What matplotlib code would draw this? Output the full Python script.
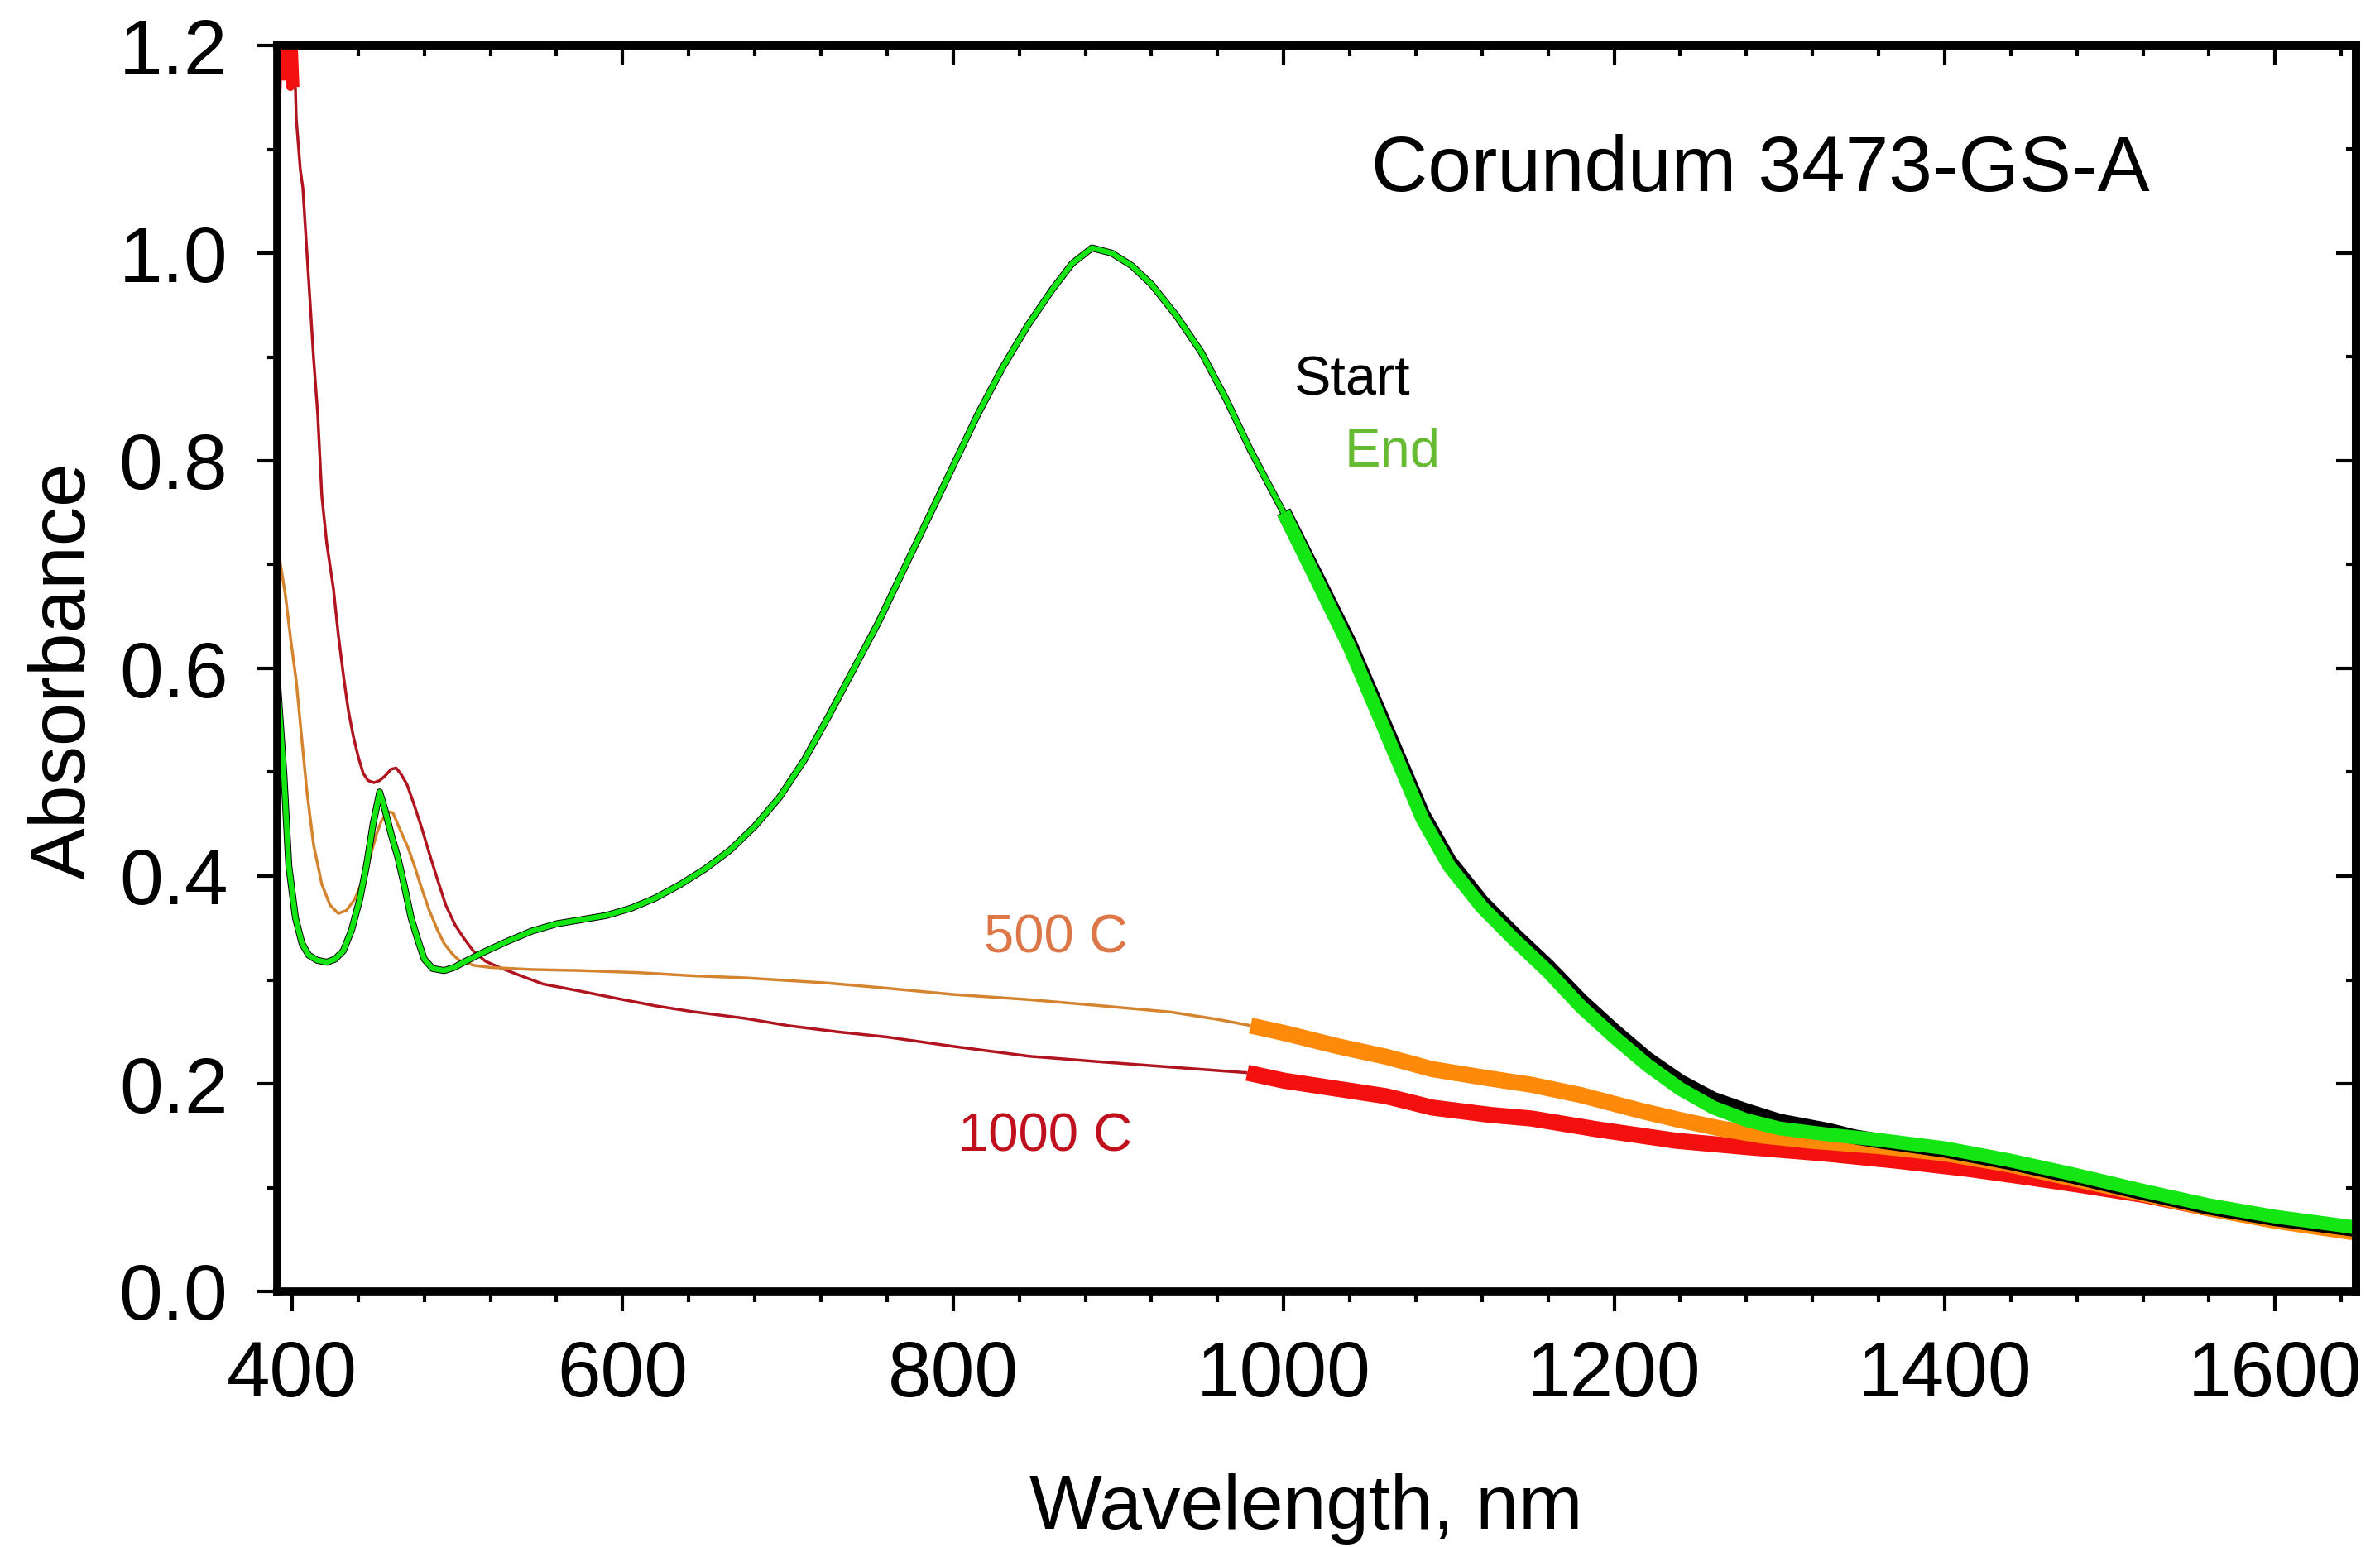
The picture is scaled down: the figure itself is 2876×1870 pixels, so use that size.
import matplotlib
matplotlib.use("Agg")
import matplotlib.pyplot as plt
from matplotlib.ticker import MultipleLocator, FixedLocator

plt.rcParams['font.family'] = ['Liberation Sans', 'DejaVu Sans']

# ---------------- data ----------------
# End (green) - visible detector part
end_vis_wl = [391, 393, 395, 398, 402, 406, 410, 415, 421, 426, 431, 436, 441, 445, 449, 453,
              456, 460, 464, 468, 472, 476, 480, 485, 492, 498, 505, 515, 530, 545, 560, 575,
              590, 605, 620, 635, 650, 665, 680, 695, 710, 725, 740, 755, 770, 785, 800, 815,
              830, 845, 860, 872, 884, 896, 908, 920, 935, 950, 965, 980, 1000]
end_vis_abs = [0.591, 0.545, 0.499, 0.410, 0.360, 0.335, 0.324, 0.319, 0.317, 0.320, 0.328, 0.348,
               0.378, 0.410, 0.450, 0.481, 0.465, 0.440, 0.418, 0.390, 0.360, 0.339, 0.320, 0.311,
               0.309, 0.312, 0.318, 0.326, 0.337, 0.347, 0.354, 0.358, 0.362, 0.369, 0.379, 0.392,
               0.407, 0.425, 0.448, 0.476, 0.512, 0.555, 0.600, 0.645, 0.695, 0.745, 0.795, 0.845,
               0.890, 0.930, 0.965, 0.990, 1.005, 1.000, 0.988, 0.970, 0.940, 0.905, 0.860, 0.810,
               0.750]
# End (green) - NIR detector part
end_nir_wl = [1000, 1020, 1040, 1060, 1084, 1100, 1120, 1140, 1160, 1180, 1200, 1220, 1240, 1260,
              1280, 1300, 1330, 1360, 1400, 1440, 1480, 1520, 1560, 1600, 1647]
end_nir_abs = [0.750, 0.685, 0.620, 0.545, 0.455, 0.410, 0.370, 0.338, 0.308, 0.274, 0.245, 0.218,
               0.195, 0.177, 0.165, 0.157, 0.151, 0.146, 0.138, 0.126, 0.112, 0.097, 0.083, 0.072,
               0.062]

# Start (black)
start_vis_wl = end_vis_wl
start_vis_abs = end_vis_abs
start_nir_wl = [1000, 1020, 1040, 1060, 1084, 1100, 1120, 1140, 1160, 1180, 1200, 1220, 1240, 1260,
                1280, 1300, 1330, 1345, 1360, 1400, 1440, 1480, 1520, 1560, 1600, 1647]
start_nir_abs = [0.751, 0.688, 0.624, 0.550, 0.460, 0.415, 0.375, 0.343, 0.313, 0.280, 0.251, 0.224,
                 0.202, 0.185, 0.174, 0.164, 0.155, 0.149, 0.145, 0.136, 0.124, 0.110, 0.095, 0.081,
                 0.070, 0.060]

# 500 C (orange)
c500_vis_wl = [391, 393, 396, 399, 402.5, 406, 409, 413, 418, 423, 428, 433, 438, 443, 447, 451,
               454, 458, 461, 465, 470, 474, 478, 483, 488, 492, 497, 501, 510, 520, 545, 575,
               610, 642, 674, 724, 760, 800, 846, 890, 932, 960, 980]
c500_vis_abs = [0.723, 0.700, 0.670, 0.630, 0.588, 0.530, 0.481, 0.430, 0.392, 0.372, 0.364, 0.367,
                0.378, 0.397, 0.417, 0.440, 0.453, 0.462, 0.461, 0.446, 0.428, 0.410, 0.390, 0.367,
                0.348, 0.335, 0.325, 0.319, 0.314, 0.312, 0.310, 0.309, 0.307, 0.304, 0.302, 0.297,
                0.292, 0.286, 0.281, 0.275, 0.269, 0.262, 0.256]
c500_nir_wl = [980, 1000, 1033, 1062, 1090, 1125, 1150, 1180, 1216, 1240, 1264, 1290, 1320, 1360,
               1400, 1440, 1480, 1520, 1560, 1600, 1647]
c500_nir_abs = [0.256, 0.249, 0.236, 0.226, 0.214, 0.205, 0.199, 0.189, 0.174, 0.165, 0.157, 0.150,
                0.145, 0.140, 0.133, 0.122, 0.108, 0.094, 0.080, 0.068, 0.057]

# 1000 C (red)
c1000_uv_wl = [391, 393, 395, 397, 399, 401, 402]
c1000_uv_abs = [1.15, 1.24, 1.17, 1.23, 1.16, 1.20, 1.16]
c1000_vis_wl = [402, 402.5, 405, 406.5, 408.8, 411, 413, 415.5, 418, 421, 425, 428, 431.5, 434, 437,
                440, 443, 446, 449.5, 453, 456, 460, 463, 466, 469.6, 474, 478.5, 483, 487.5, 493,
                498.6, 504, 509.6, 517, 525.5, 540, 552, 575, 597, 620, 642, 674, 700, 730, 760,
                800, 846, 890, 932, 978]
c1000_vis_abs = [1.160, 1.130, 1.080, 1.063, 1.005, 0.950, 0.899, 0.845, 0.766, 0.720, 0.677, 0.632,
                 0.588, 0.560, 0.535, 0.515, 0.499, 0.492, 0.490, 0.492, 0.496, 0.503, 0.504, 0.498,
                 0.488, 0.468, 0.446, 0.422, 0.399, 0.372, 0.353, 0.340, 0.328, 0.318, 0.312, 0.303,
                 0.296, 0.289, 0.282, 0.275, 0.2695, 0.263, 0.256, 0.250, 0.245, 0.236, 0.2265,
                 0.221, 0.216, 0.2106]
c1000_nir_wl = [978, 1000, 1033, 1062, 1090, 1125, 1150, 1190, 1238, 1280, 1326, 1370, 1414, 1450,
                1480, 1520, 1560, 1600, 1647]
c1000_nir_abs = [0.2106, 0.203, 0.195, 0.188, 0.177, 0.170, 0.1665, 0.156, 0.145, 0.139, 0.133,
                 0.126, 0.118, 0.110, 0.103, 0.093, 0.080, 0.069, 0.058]

x_major = [400, 600, 800, 1000, 1200, 1400, 1600]
y_major = [0.0, 0.2, 0.4, 0.6, 0.8, 1.0, 1.2]

# ---------------- styling ----------------
C_GREEN = '#14E614'
C_BLACK = '#000000'
C_ORANGE_VIS = '#D4832E'
C_ORANGE_NIR = '#FF8A0A'
C_RED_VIS = '#B0141E'
C_RED_NIR = '#F51010'

fig = plt.figure(figsize=(28.76, 18.70), dpi=100)
ax = fig.add_axes([335 / 2876, 1 - 1561 / 1870, (2847 - 335) / 2876, (1561 - 55) / 1870])

kw = dict(solid_joinstyle='round', solid_capstyle='butt')
# 1000 C
ax.plot(c1000_uv_wl, c1000_uv_abs, color=C_RED_NIR, lw=7, **kw)
ax.plot(c1000_vis_wl, c1000_vis_abs, color=C_RED_VIS, lw=2.5, **kw)
ax.plot(c1000_nir_wl, c1000_nir_abs, color=C_RED_NIR, lw=14, **kw)
# 500 C
ax.plot(c500_vis_wl, c500_vis_abs, color=C_ORANGE_VIS, lw=2.5, **kw)
ax.plot(c500_nir_wl, c500_nir_abs, color=C_ORANGE_NIR, lw=14, **kw)
# Start
ax.plot(start_vis_wl, start_vis_abs, color=C_BLACK, lw=6, **kw)
ax.plot(start_nir_wl, start_nir_abs, color=C_BLACK, lw=13, **kw)
# End
ax.plot(end_vis_wl, end_vis_abs, color=C_GREEN, lw=4.6, **kw)
ax.plot(end_nir_wl, end_nir_abs, color=C_GREEN, lw=12, **kw)

ax.set_xlim(391, 1648.9)
ax.set_ylim(0, 1.2)

for s in ax.spines.values():
    s.set_linewidth(7)
    s.set_zorder(5)

ax.xaxis.set_major_locator(FixedLocator(x_major))
ax.xaxis.set_minor_locator(MultipleLocator(40))
ax.yaxis.set_major_locator(FixedLocator(y_major))
ax.yaxis.set_minor_locator(MultipleLocator(0.1))
ax.set_xticklabels([str(v) for v in x_major])
ax.set_yticklabels([f"{v:.1f}" for v in y_major])

ax.tick_params(axis='both', which='major', direction='out', length=17, width=3,
               labelsize=68, colors='black')
ax.tick_params(axis='both', which='minor', direction='out', length=9, width=3)
ax.tick_params(axis='x', which='major', pad=25)
ax.tick_params(axis='y', which='major', pad=26)

# top and right ticks pointing inward
top = ax.secondary_xaxis('top')
top.xaxis.set_major_locator(FixedLocator(x_major))
top.xaxis.set_minor_locator(MultipleLocator(40))
top.tick_params(which='major', direction='in', length=17, width=3, labeltop=False)
top.tick_params(which='minor', direction='in', length=9, width=3)
top.spines['top'].set_linewidth(7)
right = ax.secondary_yaxis('right')
right.yaxis.set_major_locator(FixedLocator(y_major))
right.yaxis.set_minor_locator(MultipleLocator(0.1))
right.tick_params(which='major', direction='in', length=17, width=3, labelright=False)
right.tick_params(which='minor', direction='in', length=9, width=3)
right.spines['right'].set_linewidth(7)

# labels
fig.text(1578 / 2876, (1870 - 1848) / 1870, 'Wavelength, nm', fontsize=67,
         ha='center', va='baseline')
fig.text(78 / 2876, (1870 - 811) / 1870, 'Absorbance', fontsize=68, rotation=90,
         ha='center', va='center')

# annotations
ax.text(1053, 1.0594, 'Corundum 3473-GS-A', fontsize=68, ha='left', va='baseline', color='black')
ax.text(1005.9, 0.863, 'Start', fontsize=48, ha='left', va='baseline', color='black')
ax.text(1037, 0.795, 'End', fontsize=47, ha='left', va='baseline', color='#66BB33')
ax.text(818.6, 0.326, '500 C', fontsize=47, ha='left', va='baseline', color='#DC7848')
ax.text(803, 0.1347, '1000 C', fontsize=47, ha='left', va='baseline', color='#C0101E')

fig.savefig('out.png', dpi=100, facecolor='white')
